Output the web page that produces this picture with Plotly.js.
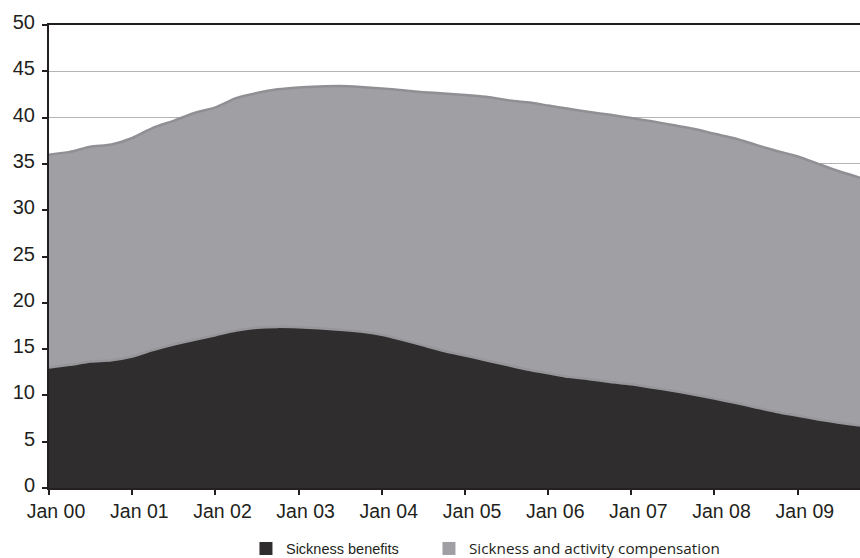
<!DOCTYPE html>
<html>
<head>
<meta charset="utf-8">
<script src="https://cdn.plot.ly/plotly-3.0.1.min.js"></script>
<style>html,body{margin:0;padding:0;background:#fff}#chart{width:860px;height:558px}</style>
</head>
<body>
<div id="chart"></div>
<script>
// Quarterly dates, Jan 2000 .. Oct 2009
const dates = [
  "2000-01-01","2000-04-01","2000-07-01","2000-10-01",
  "2001-01-01","2001-04-01","2001-07-01","2001-10-01",
  "2002-01-01","2002-04-01","2002-07-01","2002-10-01",
  "2003-01-01","2003-04-01","2003-07-01","2003-10-01",
  "2004-01-01","2004-04-01","2004-07-01","2004-10-01",
  "2005-01-01","2005-04-01","2005-07-01","2005-10-01",
  "2006-01-01","2006-04-01","2006-07-01","2006-10-01",
  "2007-01-01","2007-04-01","2007-07-01","2007-10-01",
  "2008-01-01","2008-04-01","2008-07-01","2008-10-01",
  "2009-01-01","2009-04-01","2009-07-01","2009-10-01"
];
// Sickness benefits (bottom, dark)
const sicknessBenefits = [
  13.0, 13.3, 13.65, 13.8,
  14.2, 14.9, 15.5, 16.0,
  16.5, 17.0, 17.3, 17.4,
  17.35, 17.25, 17.1, 16.9,
  16.55, 16.0, 15.4, 14.8,
  14.3, 13.8, 13.3, 12.8,
  12.4, 12.0, 11.75, 11.45,
  11.2, 10.85, 10.5, 10.1,
  9.65, 9.2, 8.7, 8.2,
  7.8, 7.4, 7.05, 6.75
];
// Sickness and activity compensation (stacked on top, light)
const activityCompensation = [
  23.0, 23.0, 23.2, 23.3,
  23.6, 24.0, 24.15, 24.5,
  24.6, 25.1, 25.35, 25.65,
  25.9, 26.1, 26.3, 26.4,
  26.6, 26.95, 27.35, 27.8,
  28.15, 28.45, 28.6, 28.85,
  28.9, 28.95, 28.85, 28.85,
  28.75, 28.75, 28.7, 28.7,
  28.6, 28.55, 28.35, 28.2,
  28.0, 27.6, 27.15, 26.75
];
const tickDates = ["2000-01-01","2001-01-01","2002-01-01","2003-01-01","2004-01-01","2005-01-01","2006-01-01","2007-01-01","2008-01-01","2009-01-01"];
const tickLabels = ["Jan 00","Jan 01","Jan 02","Jan 03","Jan 04","Jan 05","Jan 06","Jan 07","Jan 08","Jan 09"];
const yTicks = [0,5,10,15,20,25,30,35,40,45,50];
const seriesNames = ["Sickness benefits", "Sickness and activity compensation"];
const darkFill = "#2f2d2e", lightFill = "#a0a0a4";

const traces = [
  {
    x: dates, y: sicknessBenefits, name: seriesNames[0], showlegend: false,
    type: "scatter", mode: "lines", stackgroup: "one",
    line: {color: "#97979b", width: 2.5, shape: "spline", smoothing: 0.6},
    fillcolor: darkFill
  },
  {
    x: dates, y: activityCompensation, name: seriesNames[1], showlegend: false,
    type: "scatter", mode: "lines", stackgroup: "one",
    line: {color: "#909094", width: 2.5, shape: "spline", smoothing: 0.6},
    fillcolor: lightFill
  },
  // legend-only swatches (no data)
  {
    x: [null], y: [null], type: "scatter", mode: "markers", name: seriesNames[0],
    legend: "legend",
    marker: {symbol: "square", size: 13, color: darkFill, line: {width: 0}}
  },
  {
    x: [null], y: [null], type: "scatter", mode: "markers", name: seriesNames[1],
    legend: "legend2",
    marker: {symbol: "square", size: 13, color: lightFill, line: {width: 0}}
  }
];

const axisDark = "#231f20";
const legendBase = {
  orientation: "h", xref: "container", yref: "container",
  xanchor: "left", y: 0.017, yanchor: "middle", itemwidth: 30,
  bgcolor: "rgba(0,0,0,0)"
};
const layout = {
  width: 860, height: 558,
  margin: {l: 49, r: 0, t: 25, b: 70},
  paper_bgcolor: "#ffffff", plot_bgcolor: "#ffffff",
  font: {family: "Liberation Sans, Arial, sans-serif", size: 19, color: "#231f20"},
  showlegend: true,
  legend: Object.assign({}, legendBase, {
    x: 0.286,
    font: {family: "Liberation Sans, Arial, sans-serif", size: 14.5, color: "#231f20"}
  }),
  legend2: Object.assign({}, legendBase, {
    x: 0.4988,
    font: {family: "Open Sans, sans-serif", size: 15.3, color: "#231f20"}
  }),
  xaxis: {
    type: "date", range: ["2000-01-01", "2009-10-01"],
    tickmode: "array", tickvals: tickDates, ticktext: tickLabels,
    showgrid: false, zeroline: false,
    showline: true, linecolor: axisDark, linewidth: 2, mirror: true,
    ticks: "outside", ticklen: 5, tickwidth: 2, tickcolor: axisDark,
    ticklabelshift: 7,
    tickfont: {size: 19.5}
  },
  yaxis: {
    range: [0, 50], tickmode: "array", tickvals: yTicks,
    showgrid: true, gridcolor: "#b4b4b4", gridwidth: 1,
    zeroline: false,
    showline: true, linecolor: axisDark, linewidth: 2,
    ticks: "outside", ticklen: 5, tickwidth: 2, tickcolor: axisDark,
    ticklabelstandoff: 3, ticklabelshift: -3,
    tickfont: {size: 20}
  }
};

Plotly.newPlot("chart", traces, layout, {displayModeBar: false, staticPlot: true});
</script>
</body>
</html>
